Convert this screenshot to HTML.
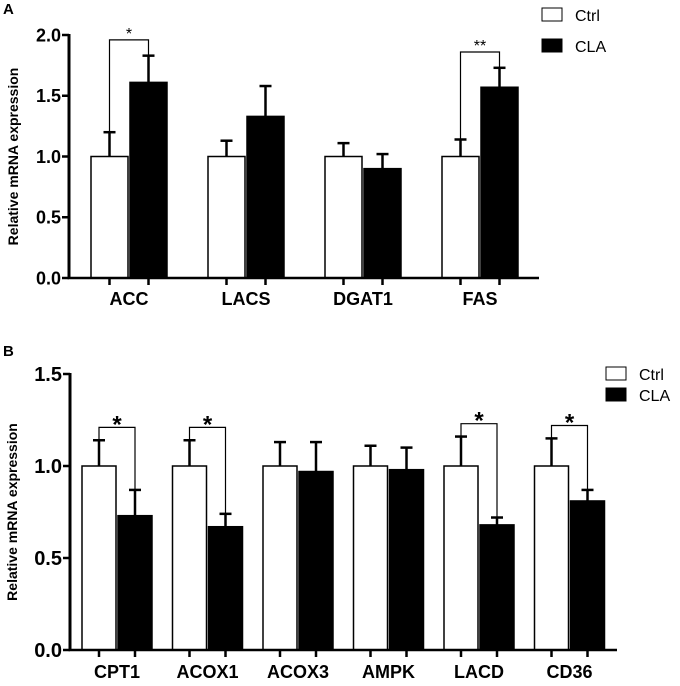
<!DOCTYPE html>
<html><head><meta charset="utf-8"><style>
html,body{margin:0;padding:0;background:#fff;}
svg{display:block;font-family:"Liberation Sans",Arial,sans-serif;}
</style></head><body>
<svg id="c" width="680" height="686" viewBox="0 0 680 686" xmlns="http://www.w3.org/2000/svg"></svg>
<script>
const catsA=["ACC","LACS","DGAT1","FAS"];
const ctrlA=[1,1,1,1];
const ctrlErrA=[0.2,0.13,0.11,0.14];
const claA=[1.61,1.33,0.9,1.57];
const claErrA=[0.22,0.25,0.12,0.16];
const sigA=["*","","","**"];
const ticksA=[0,0.5,1.0,1.5,2.0];

const catsB=["CPT1","ACOX1","ACOX3","AMPK","LACD","CD36"];
const ctrlB=[1,1,1,1,1,1];
const ctrlErrB=[0.14,0.14,0.13,0.11,0.16,0.15];
const claB=[0.73,0.67,0.97,0.98,0.68,0.81];
const claErrB=[0.14,0.07,0.16,0.12,0.04,0.06];
const sigB=["*","*","","","*","*"];
const ticksB=[0,0.5,1.0,1.5];

const NS="http://www.w3.org/2000/svg";
const svg=document.getElementById('c');
function mk(t,a,p){const e=document.createElementNS(NS,t);for(const k in a)e.setAttribute(k,a[k]);(p||svg).appendChild(e);return e;}

function panel(o){
  const g=mk('g',{});
  
  
  const y=v=>o.y0-(v/o.ymax)*(o.y0-o.y1);
  const lab=mk('text',{x:o.letterX,y:o.letterY,'font-size':15,'font-weight':'bold'},g);lab.textContent=o.letter;
  
  
  const yl=mk('text',{transform:`translate(${o.ylabX},${(o.y0+o.y1)/2}) rotate(-90)`,'text-anchor':'middle','font-size':14,'font-weight':'bold'},g);
  yl.textContent="Relative mRNA expression";
  
  
  const bw=o.bw, gap=o.gap;
  o.cats.forEach((c,i)=>{
    const xw=o.x0+i*o.step, xb=xw+bw+gap;
    const yc=y(o.ctrl[i]), yk=y(o.cla[i]);
    const ec=y(o.ctrl[i]+o.ctrlErr[i]), ek=y(o.cla[i]+o.claErr[i]);
    const cw=xw+bw/2, cb=xb+bw/2;
    let l=mk('line',{x1:cw,x2:cw,y1:yc,y2:ec,stroke:'#000','stroke-width':2.5},g);
    
    
    mk('line',{x1:cw-6,x2:cw+6,y1:ec,y2:ec,stroke:'#000','stroke-width':2.5},g);
    l=mk('line',{x1:cb,x2:cb,y1:yk,y2:ek,stroke:'#000','stroke-width':2.5},g);
    
    
    mk('line',{x1:cb-6,x2:cb+6,y1:ek,y2:ek,stroke:'#000','stroke-width':2.5},g);
    let r=mk('rect',{x:xw,y:yc,width:bw,height:o.y0-yc,fill:'#fff',stroke:'#000','stroke-width':1.5},g);
    
    
    r=mk('rect',{x:xb,y:yk,width:bw,height:o.y0-yk,fill:'#000',stroke:'#000','stroke-width':1.5},g);
    
    
    mk('line',{x1:cw,x2:cw,y1:o.y0,y2:o.y0+7,stroke:'#000','stroke-width':2.5},g);
    mk('line',{x1:cb,x2:cb,y1:o.y0,y2:o.y0+7,stroke:'#000','stroke-width':2.5},g);
    const t=mk('text',{x:(cw+cb)/2,y:o.y0+o.catDy,'text-anchor':'middle','font-size':o.cfs,'font-weight':'bold'},g);
    t.textContent=c;
    
    
    if(o.sig[i]){
      const by=y(Math.max(o.ctrl[i]+o.ctrlErr[i],o.cla[i]+o.claErr[i])+o.bOff);
      const p=mk('path',{d:`M${cw},${ec} V${by} H${cb} V${ek}`,fill:'none',stroke:'#000','stroke-width':1.2},g);
      
      
      const s=mk('text',{x:(cw+cb)/2,y:by+o.starDy,'text-anchor':'middle','font-size':o.starFs,'font-weight':o.starW},g);
      s.textContent=o.sig[i];
      
      
    }
  });
  let a=mk('line',{x1:o.ax,x2:o.ax,y1:o.y1-1,y2:o.y0,stroke:'#000','stroke-width':3},g);
  
  
  a=mk('line',{x1:o.ax-1.5,x2:o.xEnd,y1:o.y0,y2:o.y0,stroke:'#000','stroke-width':2.5},g);
  
  
  o.ticks.forEach(v=>{
    mk('line',{x1:o.ax-7,x2:o.ax,y1:y(v),y2:y(v),stroke:'#000','stroke-width':2.5},g);
    const t=mk('text',{x:o.ax-8,y:y(v)+o.fs*0.36,'text-anchor':'end','font-size':o.fs,'font-weight':'bold'},g);
    t.textContent=v.toFixed(1);
    
    
  });
  [["Ctrl","#fff",o.legY],["CLA","#000",o.legY+o.legStep]].forEach(([n,f,ly])=>{
    const r=mk('rect',{x:o.legX,y:ly,width:20,height:13,fill:f,stroke:'#000','stroke-width':1},g);
    
    
    const t=mk('text',{x:o.legX+33,y:ly+13,'font-size':16},g);
    t.textContent=n;
    
    
  });
}
panel({name:'panel-a',letter:'A',letterX:3,letterY:14,ylabX:18,cats:catsA,ctrl:ctrlA,ctrlErr:ctrlErrA,cla:claA,claErr:claErrA,sig:sigA,ticks:ticksA,
  ymax:2,y0:278,y1:35,ax:69,xEnd:539,x0:91,step:117,bw:37,gap:2,fs:18,cfs:18,catDy:27,bOff:0.13,starDy:-1,starFs:16,starW:'normal',legX:542,legY:8,legStep:31});
panel({name:'panel-b',letter:'B',letterX:3,letterY:356,ylabX:17,cats:catsB,ctrl:ctrlB,ctrlErr:ctrlErrB,cla:claB,claErr:claErrB,sig:sigB,ticks:ticksB,
  ymax:1.5,y0:650,y1:374,ax:70,xEnd:617,x0:82,step:90.5,bw:34,gap:2,fs:20,cfs:18,catDy:28,bOff:0.07,starDy:5,starFs:24,starW:'bold',legX:606,legY:367,legStep:21});
</script>
</body></html>
